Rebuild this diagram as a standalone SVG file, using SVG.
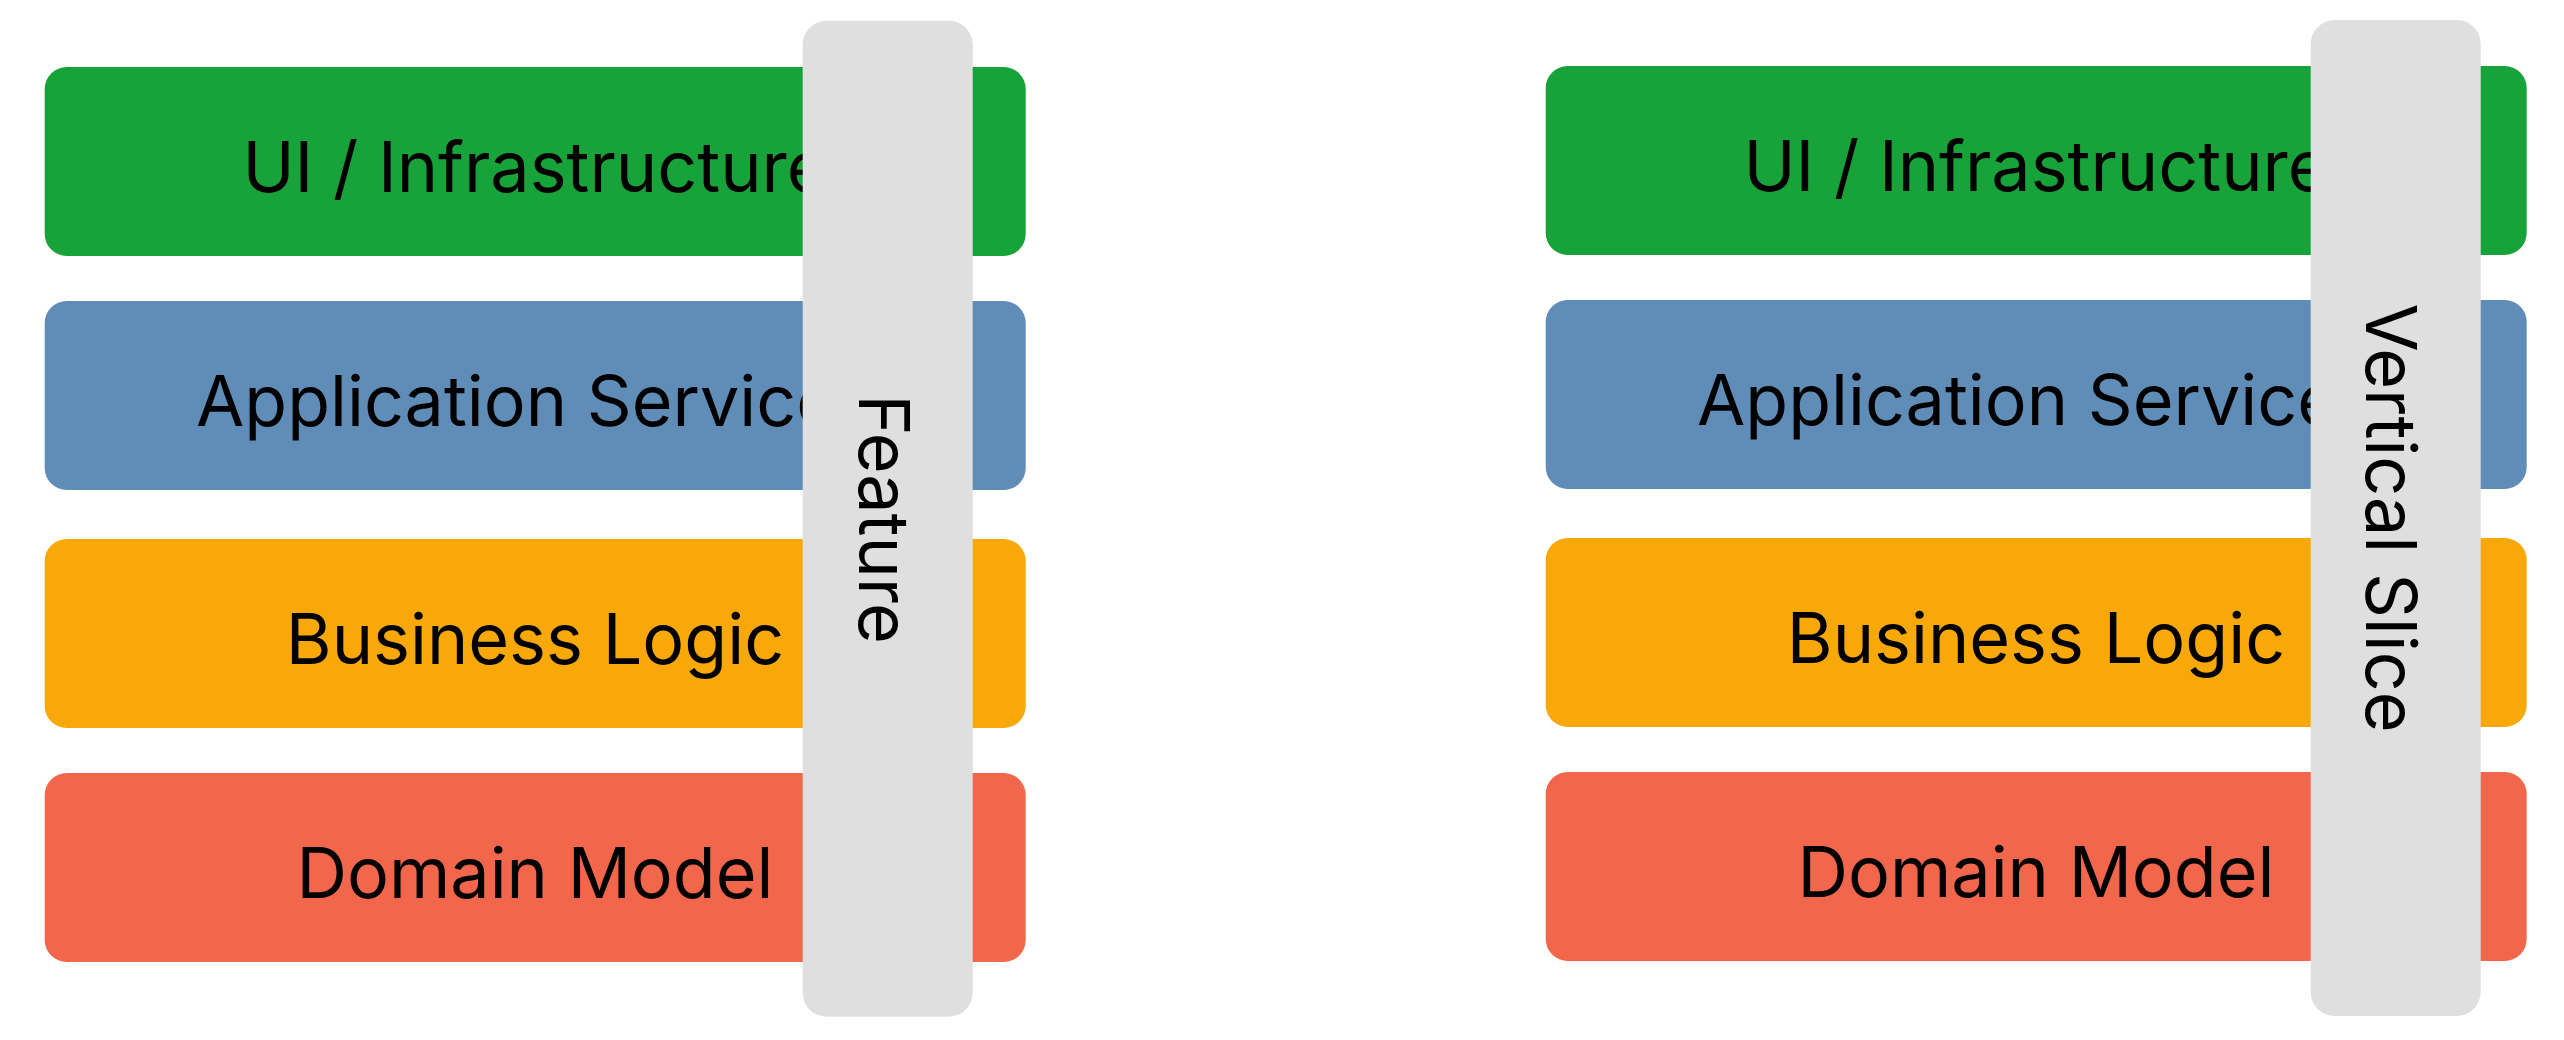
<svg xmlns="http://www.w3.org/2000/svg" width="2564" height="1040" viewBox="0 0 2564 1040">
  <style>
    .layer-label { font-family: Inter, "Liberation Sans", sans-serif; font-size: 70px; fill: #000; text-anchor: middle; }
    .bar-label { font-family: Inter, "Liberation Sans", sans-serif; font-size: 70px; fill: #000; text-anchor: middle; }
    .bar { fill: #DFDFDF; }
    .ui { fill: #18A23A; }
    .app { fill: #5F8DB8; }
    .biz { fill: #F8A808; }
    .dom { fill: #F2674C; }
  </style>
  <rect width="2564" height="1040" fill="#FFFFFF"/>
  <g id="left-stack">
    <g id="left-ui">
      <rect class="ui" x="44.7" y="67" width="981" height="189" rx="22" ry="22"/>
      <text class="layer-label" x="535" y="192">UI / Infrastructure</text>
    </g>
    <g id="left-app">
      <rect class="app" x="44.7" y="301" width="981" height="189" rx="22" ry="22"/>
      <text class="layer-label" x="535" y="426">Application Services</text>
    </g>
    <g id="left-biz">
      <rect class="biz" x="44.7" y="539" width="981" height="189" rx="22" ry="22"/>
      <text class="layer-label" x="535" y="664">Business Logic</text>
    </g>
    <g id="left-dom">
      <rect class="dom" x="44.7" y="773" width="981" height="189" rx="22" ry="22"/>
      <text class="layer-label" x="535" y="898">Domain Model</text>
    </g>
    <g id="feature">
      <rect class="bar" x="802.7" y="20.7" width="170" height="996" rx="24" ry="24"/>
      <text class="bar-label" transform="translate(859,519) rotate(90)">Feature</text>
    </g>
  </g>
  <g id="right-stack">
    <g id="right-ui">
      <rect class="ui" x="1545.7" y="66" width="981" height="189" rx="22" ry="22"/>
      <text class="layer-label" x="2036" y="191">UI / Infrastructure</text>
    </g>
    <g id="right-app">
      <rect class="app" x="1545.7" y="300" width="981" height="189" rx="22" ry="22"/>
      <text class="layer-label" x="2036" y="425">Application Services</text>
    </g>
    <g id="right-biz">
      <rect class="biz" x="1545.7" y="538" width="981" height="189" rx="22" ry="22"/>
      <text class="layer-label" x="2036" y="663">Business Logic</text>
    </g>
    <g id="right-dom">
      <rect class="dom" x="1545.7" y="772" width="981" height="189" rx="22" ry="22"/>
      <text class="layer-label" x="2036" y="897">Domain Model</text>
    </g>
    <g id="vertical-slice">
      <rect class="bar" x="2310.7" y="20" width="170" height="996" rx="24" ry="24"/>
      <text class="bar-label" transform="translate(2366,518) rotate(90)">Vertical Slice</text>
    </g>
  </g>
  <g id="connectors"/>
</svg>
